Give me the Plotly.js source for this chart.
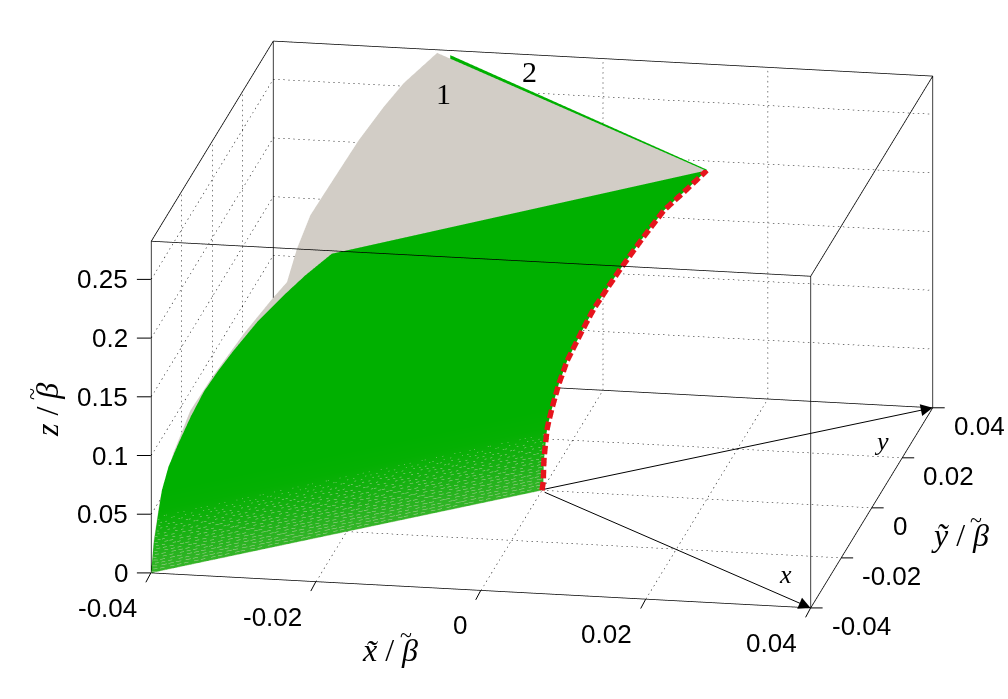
<!DOCTYPE html>
<html><head><meta charset="utf-8">
<script src="https://cdn.plot.ly/plotly-3.0.1.min.js"></script>
<style>html,body{margin:0;padding:0;background:#fff}#p{width:1008px;height:699px}</style></head>
<body><div id="p"></div>
<script>
const xTicks=[-0.04,-0.02,0,0.02,0.04];
const yTicks=[-0.04,-0.02,0,0.02,0.04];
const zTicks=[0,0.05,0.1,0.15,0.2,0.25];
const xLabels=['-0.04','-0.02','0','0.02','0.04'];
const yLabels=['-0.04','-0.02','0','0.02','0.04'];
const zLabels=['0','0.05','0.1','0.15','0.2','0.25'];
const zTop=0.2825;
const levelZ=[0,0.0053,0.0253,0.0538,0.0711,0.0914,0.1116,0.135,0.157,0.175,0.1923,0.2189,0.244,0.2605,0.28];
const leftX=[-0.04,-0.03995,-0.0397,-0.0391,-0.0387,-0.0379,-0.0367,-0.0352,-0.0336,-0.0319,-0.0301,-0.0271,-0.0237,-0.0213,-0.0181];
const redX=[0,0.00015,0.00022,0.00063,0.00124,0.00204,0.00306,0.00467,0.00629,0.00792,0.00953,0.01216,0.01479,0.01721,0.02];
const levelColor=['#34b428','#30b426','#1cb216','#04b002','#00b000','#00b000','#00b000','#00b000','#00b000','#00b000','#00b000','#00b000','#00b000','#00b000','#00b000'];
const greyX=[-0.04,-0.03984,-0.03937,-0.03844,-0.03728,-0.03577,-0.03356,-0.03149,-0.03054,-0.02984,-0.02891,-0.0281,-0.02682,-0.02554,-0.0238,-0.0224,-0.02007];
const greyY=[-0.04,-0.03936,-0.03749,-0.03378,-0.02912,-0.02306,-0.01425,-0.00596,-0.00216,0.00064,0.00436,0.0076,0.01272,0.01784,0.0248,0.0304,0.0397];
const greyZ=[0,0.026,0.0591,0.0899,0.116,0.132,0.1511,0.1652,0.1705,0.1934,0.2142,0.2231,0.2369,0.2506,0.2648,0.2737,0.2805];
const topX=[-0.0182,0.02], topY=[0.0382,0], topUpper=[0.2825,0.2806], topLower=[0.278,0.2794];
const apex=[0.02,0,0.2795];
const speckleZ=[0.001,0.0035,0.006,0.0085,0.011,0.0135,0.016,0.0185,0.021,0.0235,0.026,0.0285,0.031,0.0335,0.036,0.0385,0.041,0.0435,0.046,0.049];
const speckleOn=[0.7,0.55,0.65,0.5,0.6,0.5,0.55,0.45,0.5,0.4,0.45,0.35,0.4,0.3,0.3,0.25,0.25,0.2,0.15,0.12];
const speckleStart=[0.1,0.6,0.3,0.85,0.45,0.15,0.7,0.35,0.9,0.55,0.2,0.75,0.05,0.5,0.25,0.8,0.4,0.65,0.15,0.95];
const speckleCells=48;

const n=levelZ.length, gx=[],gy=[],gz=[],gc=[],gi=[],gj=[],gk=[];
levelZ.forEach((z,i)=>{gx.push(leftX[i]);gy.push(-0.04);gz.push(z);gc.push(levelColor[i]);
  gx.push(redX[i]);gy.push(0);gz.push(z);gc.push(levelColor[i]);});
for(let i=0;i<n-1;i++){const a=2*i,b=a+1,c=a+2,d=a+3;gi.push(a,b);gj.push(b,d);gk.push(c,c);}
const m=greyX.length, split=8;
const vx=greyX.concat([apex[0]]),vy=greyY.concat([apex[1]]),vz=greyZ.concat([apex[2]]);
const hi=[],hj=[],hk=[];
for(let i=split;i<m-1;i++){hi.push(i);hj.push(i+1);hk.push(m);}
for(let i=0;i<=split;i++){vx.push(greyX[i]+0.002);vy.push(greyY[i]+0.004);vz.push(greyZ[i]);}
for(let i=0;i<split;i++){const p=m+1+i;hi.push(i,i+1);hj.push(i+1,p+1);hk.push(p,p);}
const flat={ambient:1,diffuse:0,specular:0,roughness:1,fresnel:0};
const traces=[];
traces.push({type:'mesh3d',x:vx,y:vy,z:vz,i:hi,j:hj,k:hk,color:'#d2cdc6',lighting:flat,hoverinfo:'skip',showscale:false});
traces.push({type:'mesh3d',x:gx,y:gy,z:gz,i:gi,j:gj,k:gk,vertexcolor:gc,lighting:flat,hoverinfo:'skip',showscale:false});
traces.push({type:'mesh3d',x:[topX[0],topX[0],topX[1],topX[1]],y:[topY[0],topY[0],topY[1],topY[1]],z:[topUpper[0],topLower[0],topUpper[1],topLower[1]],
  i:[0,1],j:[1,3],k:[2,2],color:'#00b000',lighting:flat,hoverinfo:'skip',showscale:false});
function edgeAt(arr,z){for(let i=0;i<n-1;i++){if(z<=levelZ[i+1]){const f=(z-levelZ[i])/(levelZ[i+1]-levelZ[i]);return arr[i]+f*(arr[i+1]-arr[i]);}}return arr[n-1];}
const sx=[],sy=[],sz=[];
speckleZ.forEach((z,i)=>{const l=edgeAt(leftX,z),r=edgeAt(redX,z);
  for(let c=0;c<speckleCells;c++){
    const a=(c+speckleStart[(i+c)%20]*(1-speckleOn[i]))/speckleCells,b=a+speckleOn[i]/speckleCells;
    [a,b].forEach(f=>{sx.push(l+f*(r-l));sy.push(Math.max(-0.04,-0.04+f*0.04-0.0005));sz.push(z);});
    sx.push(null);sy.push(null);sz.push(null);
  }});
traces.push({type:'scatter3d',mode:'lines',x:sx,y:sy,z:sz,line:{color:'#b4d2a2',width:1},hoverinfo:'skip',connectgaps:false});
const pxX=8237, pyZ=1172, pyX=437.5, halfW=2.7, dashOn=8.5, dashOff=3.6;
const rx=[],ry=[],rz=[],ri=[],rj=[],rk=[];
function at(s){let acc=0;
  for(let i=0;i<n-1;i++){
    const dp=(redX[i+1]-redX[i])*pxX, dq=(redX[i+1]-redX[i])*pyX-(levelZ[i+1]-levelZ[i])*pyZ, L=Math.hypot(dp,dq);
    if(s<=acc+L||i===n-2){const f=(s-acc)/L;return [redX[i]+f*(redX[i+1]-redX[i]),levelZ[i]+f*(levelZ[i+1]-levelZ[i])];}
    acc+=L;
  }}
let arcTotal=0;for(let i=0;i<n-1;i++){const dp=(redX[i+1]-redX[i])*pxX,dq=(redX[i+1]-redX[i])*pyX-(levelZ[i+1]-levelZ[i])*pyZ;arcTotal+=Math.hypot(dp,dq);}
for(let s=0;s<arcTotal;s+=dashOn+dashOff){
  const A=at(s),B=at(Math.min(s+dashOn,arcTotal));
  const dp=(B[0]-A[0])*pxX,dq=(B[0]-A[0])*pyX-(B[1]-A[1])*pyZ,L=Math.hypot(dp,dq)||1;
  const np=-dq/L*halfW,nq=dp/L*halfW,ox=np/pxX,oz=-(nq-ox*pyX)/pyZ;
  const b=rx.length;
  [[A,1],[A,-1],[B,1],[B,-1]].forEach(([P,g])=>{rx.push(P[0]+g*ox+0.00022);ry.push(-0.0012);rz.push(P[1]+g*oz+0.0026);});
  ri.push(b,b+1);rj.push(b+1,b+3);rk.push(b+2,b+2);
}
traces.push({type:'mesh3d',x:rx,y:ry,z:rz,i:ri,j:rj,k:rk,color:'#e6141c',lighting:flat,hoverinfo:'skip',showscale:false});
const x0=xTicks[0],x1=xTicks[4],y0=yTicks[0],y1=yTicks[4];
const gridX=[],gridY=[],gridZ=[];
function dotted(a,b,N){for(let i=0;i<N;i++){const f=i/N,g=(i+0.3)/N;
  gridX.push(a[0]+f*(b[0]-a[0]),a[0]+g*(b[0]-a[0]),null);gridY.push(a[1]+f*(b[1]-a[1]),a[1]+g*(b[1]-a[1]),null);gridZ.push(a[2]+f*(b[2]-a[2]),a[2]+g*(b[2]-a[2]),null);}}
xTicks.slice(1,4).forEach(v=>{dotted([v,y0,0],[v,y1,0],47);dotted([v,y1,0],[v,y1,zTop],66);});
yTicks.slice(1,4).forEach(v=>{dotted([x0,v,0],[x1,v,0],132);dotted([x0,v,0],[x0,v,zTop],66);});
zTicks.slice(1).forEach(v=>{dotted([x0,y0,v],[x0,y1,v],47);dotted([x0,y1,v],[x1,y1,v],132);});
traces.push({type:'scatter3d',mode:'lines',x:gridX,y:gridY,z:gridZ,line:{color:'#000',width:1},hoverinfo:'skip',connectgaps:false});
const bx=[],by=[],bz=[];
function seg(a,b){bx.push(a[0],b[0],null);by.push(a[1],b[1],null);bz.push(a[2],b[2],null);}
[x0,x1].forEach(a=>[y0,y1].forEach(b=>seg([a,b,0],[a,b,zTop])));
[x0,x1].forEach(a=>[0,zTop].forEach(c=>seg([a,y0,c],[a,y1,c])));
[y0,y1].forEach(b=>[0,zTop].forEach(c=>seg([x0,b,c],[x1,b,c])));
traces.push({type:'scatter3d',mode:'lines',x:bx,y:by,z:bz,line:{color:'#000',width:1.5},hoverinfo:'skip',connectgaps:false});

const ax=(range)=>({range:range,showticklabels:false,showgrid:false,zeroline:false,showbackground:false,
  showline:false,ticks:'',showspikes:false,title:{text:''}});
const P=(px,py)=>({x:px/1008,y:1-py/699,xref:'paper',yref:'paper',showarrow:false,xanchor:'center',yanchor:'middle'});
const serif=(s)=>({family:'Liberation Serif',size:s,color:'#000'});
const notes=[
 Object.assign(P(443,93),{text:'1',font:serif(30)}),
 Object.assign(P(529,72),{text:'2',font:serif(30)}),
 Object.assign(P(785,574),{text:'<i>x</i>',font:serif(26)}),
 Object.assign(P(881,441),{text:'<i>y</i>',font:serif(26)}),
 Object.assign(P(390,650),{text:'<i>x̃</i> / <i>β</i>',font:serif(32)}),
 Object.assign(P(406,634),{text:'~',font:serif(22)}),
 Object.assign(P(960,535),{text:'<i>ỹ</i> / <i>β</i>',font:serif(32)}),
 Object.assign(P(976,519),{text:'~',font:serif(22)}),
 Object.assign(P(47,410),{text:'<i>z</i> / <i>β</i>',font:serif(32),textangle:-90}),
 Object.assign(P(31,394),{text:'~',font:serif(22),textangle:-90})
];
const tf={family:'Liberation Sans',size:26,color:'#000'};
const sceneNotes=[
 {x:x1,y:y0,z:0,text:' ',showarrow:true,ax:-269,ay:-117,arrowhead:2,arrowsize:2.4,arrowwidth:1,arrowcolor:'#000'},
 {x:x1,y:y1,z:0,text:' ',showarrow:true,ax:-391,ay:82,arrowhead:2,arrowsize:2.4,arrowwidth:1,arrowcolor:'#000'}
];
const tick=(x,y,z,a,b)=>({x:x,y:y,z:z,text:' ',showarrow:true,arrowhead:0,arrowwidth:1,arrowcolor:'#000',ax:a,ay:b,standoff:0});
xTicks.forEach((v,i)=>{sceneNotes.push(tick(v,y0,0,-8,15));sceneNotes.push({x:v,y:y0,z:0,text:xLabels[i],showarrow:false,font:tf,xanchor:'right',yanchor:'middle',xshift:-12,yshift:-35});});
yTicks.forEach((v,i)=>{sceneNotes.push(tick(x1,v,0,15,0));sceneNotes.push({x:x1,y:v,z:0,text:yLabels[i],showarrow:false,font:tf,xanchor:'left',yanchor:'middle',xshift:19,yshift:-18});});
zTicks.forEach((v,i)=>{sceneNotes.push(tick(x0,y0,v,-17,0));sceneNotes.push({x:x0,y:y0,z:v,text:zLabels[i],showarrow:false,font:tf,xanchor:'right',yanchor:'middle',xshift:-21,yshift:0});});
const layout={width:1008,height:699,margin:{l:0,r:0,t:0,b:0},paper_bgcolor:'#fff',showlegend:false,annotations:notes,
 scene:{domain:{x:[0.075,1],y:[0.0715,1]},aspectmode:'manual',aspectratio:{x:2.07,y:2.129,z:1.072},
  camera:{projection:{type:'orthographic'},up:{x:0,y:0,z:1},center:{x:0,y:0,z:0},eye:{x:0.6768,y:-3.7616,z:1.1804}},
  xaxis:ax([x0-0.0001,x1+0.0001]),yaxis:ax([y0-0.0001,y1+0.0001]),zaxis:ax([-0.0003,zTop+0.0003]),
  annotations:sceneNotes}};
Plotly.newPlot('p',traces,layout,{displayModeBar:false});
</script></body></html>
